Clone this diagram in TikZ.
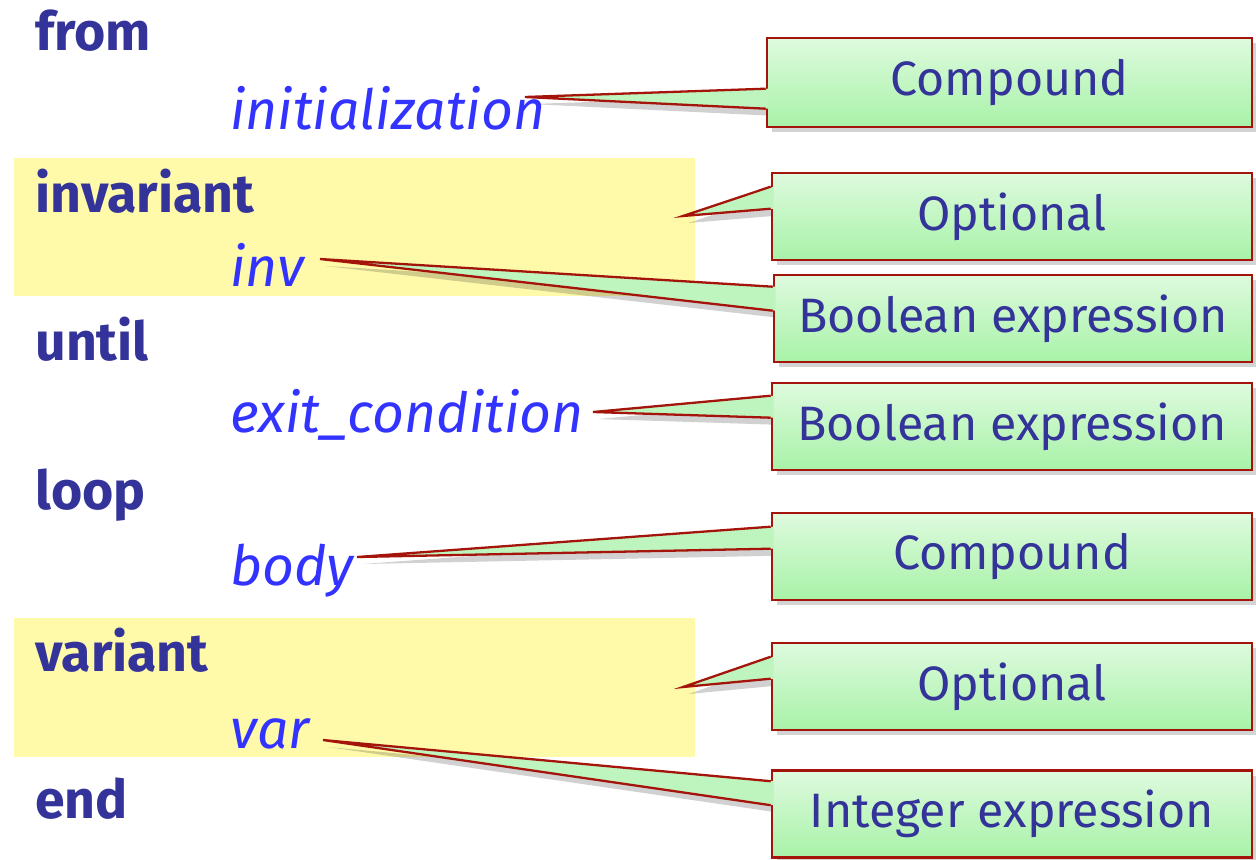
\documentclass[tikz,border=0pt]{standalone}
\usepackage{fontspec}
\setmainfont{Fira Sans}
\usepackage{tikz}
\usetikzlibrary{shadows, calc}

\definecolor{keyblue}{RGB}{51,51,153}
\definecolor{idblue}{RGB}{51,51,255}
\definecolor{noteyellow}{RGB}{254,250,170}
\definecolor{boxred}{RGB}{165,20,10}
\definecolor{boxgreenhi}{RGB}{222,250,222}
\definecolor{boxgreen}{RGB}{168,242,168}

\pgfdeclarelayer{background}
\pgfsetlayers{background,main}

\begin{document}
\begin{tikzpicture}[
    x=0.02cm, y=-0.02cm,
    keyword/.style={anchor=base west, inner sep=0pt, text=keyblue, font=\fontsize{30.5}{35}\selectfont\bfseries},
    ident/.style={anchor=base west, inner sep=0pt, text=idblue, font=\fontsize{31.5}{36}\selectfont\itshape},
    band/.style={fill=noteyellow},
    note/.style={draw=boxred, line width=1.5pt, rectangle, minimum width=9.6cm, minimum height=1.74cm, top color=boxgreenhi, bottom color=boxgreen, text=keyblue, font=\fontsize{27.5}{32}\selectfont, drop shadow={shadow xshift=3pt, shadow yshift=-3pt, opacity=0.35}},
    wedgefill/.style={fill=boxgreen!75!white},
    wedgeline/.style={draw=boxred, line width=1.3pt, line join=miter},
    wedgeshadow/.style={fill=black, opacity=0.18, transform canvas={xshift=3pt, yshift=-4pt}}
]
    \useasboundingbox (0,0) rectangle (1256,859);

    % ================= LOOP TEXT =================
    \node[keyword] (kwfrom) at (35,50) {from};
    \node[ident] (idinit) at (230,129) {initialization};
    \node[keyword] (kwinv) at (35,212) {invariant};
    \node[ident] (idinv) at (230,286) {inv};
    \node[keyword] (kwuntil) at (35,360) {until};
    \node[ident] (idexit) at (230,432) {exit\_condition};
    \node[keyword] (kwloop) at (35,509) {loop};
    \node[ident] (idbody) at (230,585) {body};
    \node[keyword] (kwvar) at (35,671) {variant};
    \node[ident] (idvar) at (230,748) {var};
    \node[keyword] (kwend) at (35,818) {end};

    % ================= POINTER TIPS =================
    \coordinate (tinit) at (525,97);
    \coordinate (tinvopt) at (683,216);
    \coordinate (tinv) at (320,259);
    \coordinate (texit) at (593,412);
    \coordinate (tbody) at (357,557);
    \coordinate (tvaropt) at (683,687);
    \coordinate (tvar) at (323,740);

    % ================= CALLOUT BOXES =================
    \node[note, minimum width=9.7cm, minimum height=1.78cm] (cinit) at (1009.5,82.5) {Compound};
    \node[note] (cinvopt) at (1012,216.5) {Optional};
    \node[note, minimum width=9.56cm] (cinv) at (1013,318.5) {Boolean expression};
    \node[note] (cexit) at (1012,426.5) {Boolean expression};
    \node[note] (cbody) at (1012,556.5) {Compound};
    \node[note] (cvaropt) at (1012,686.5) {Optional};
    \node[note] (cvar) at (1012,814) {Integer expression};

    % ================= HIGHLIGHTS + POINTER SHADOWS =================
    \begin{pgfonlayer}{background}
        \fill[band] (14,158) rectangle (695,296);
        \fill[band] (14,618) rectangle (695,757);

        \fill[wedgeshadow] (tinit) -- ($(cinit.north west)+(0,52)$) -- ($(cinit.north west)+(0,72)$) -- cycle;
        \fill[wedgeshadow] (tinvopt) -- ($(cinvopt.north west)+(0,15)$) -- ($(cinvopt.north west)+(0,37)$) -- cycle;
        \fill[wedgeshadow] (tinv) -- ($(cinv.north west)+(0,13)$) -- ($(cinv.north west)+(0,37)$) -- cycle;
        \fill[wedgeshadow] (texit) -- ($(cexit.north west)+(0,14)$) -- ($(cexit.north west)+(0,36)$) -- cycle;
        \fill[wedgeshadow] (tbody) -- ($(cbody.north west)+(0,15)$) -- ($(cbody.north west)+(0,37)$) -- cycle;
        \fill[wedgeshadow] (tvaropt) -- ($(cvaropt.north west)+(0,15)$) -- ($(cvaropt.north west)+(0,37)$) -- cycle;
        \fill[wedgeshadow] (tvar) -- ($(cvar.north west)+(0,12)$) -- ($(cvar.north west)+(0,36)$) -- cycle;
    \end{pgfonlayer}

    % ================= POINTERS =================

    % initialization : Compound
    \fill[wedgefill] (tinit) -- ($(cinit.north west)+(3,52)$) -- ($(cinit.north west)+(3,72)$) -- cycle;
    \draw[wedgeline] ($(cinit.north west)+(0,52)$) -- (tinit) -- ($(cinit.north west)+(0,72)$);

    % invariant : Optional
    \fill[wedgefill] (tinvopt) -- ($(cinvopt.north west)+(3,15)$) -- ($(cinvopt.north west)+(3,37)$) -- cycle;
    \draw[wedgeline] ($(cinvopt.north west)+(0,15)$) -- (tinvopt) -- ($(cinvopt.north west)+(0,37)$);

    % inv : Boolean expression
    \fill[wedgefill] (tinv) -- ($(cinv.north west)+(3,13)$) -- ($(cinv.north west)+(3,37)$) -- cycle;
    \draw[wedgeline] ($(cinv.north west)+(0,13)$) -- (tinv) -- ($(cinv.north west)+(0,37)$);

    % exit_condition : Boolean expression
    \fill[wedgefill] (texit) -- ($(cexit.north west)+(3,14)$) -- ($(cexit.north west)+(3,36)$) -- cycle;
    \draw[wedgeline] ($(cexit.north west)+(0,14)$) -- (texit) -- ($(cexit.north west)+(0,36)$);

    % body : Compound
    \fill[wedgefill] (tbody) -- ($(cbody.north west)+(3,15)$) -- ($(cbody.north west)+(3,37)$) -- cycle;
    \draw[wedgeline] ($(cbody.north west)+(0,15)$) -- (tbody) -- ($(cbody.north west)+(0,37)$);

    % variant : Optional
    \fill[wedgefill] (tvaropt) -- ($(cvaropt.north west)+(3,15)$) -- ($(cvaropt.north west)+(3,37)$) -- cycle;
    \draw[wedgeline] ($(cvaropt.north west)+(0,15)$) -- (tvaropt) -- ($(cvaropt.north west)+(0,37)$);

    % var : Integer expression
    \fill[wedgefill] (tvar) -- ($(cvar.north west)+(3,12)$) -- ($(cvar.north west)+(3,36)$) -- cycle;
    \draw[wedgeline] ($(cvar.north west)+(0,12)$) -- (tvar) -- ($(cvar.north west)+(0,36)$);

\end{tikzpicture}
\end{document}
